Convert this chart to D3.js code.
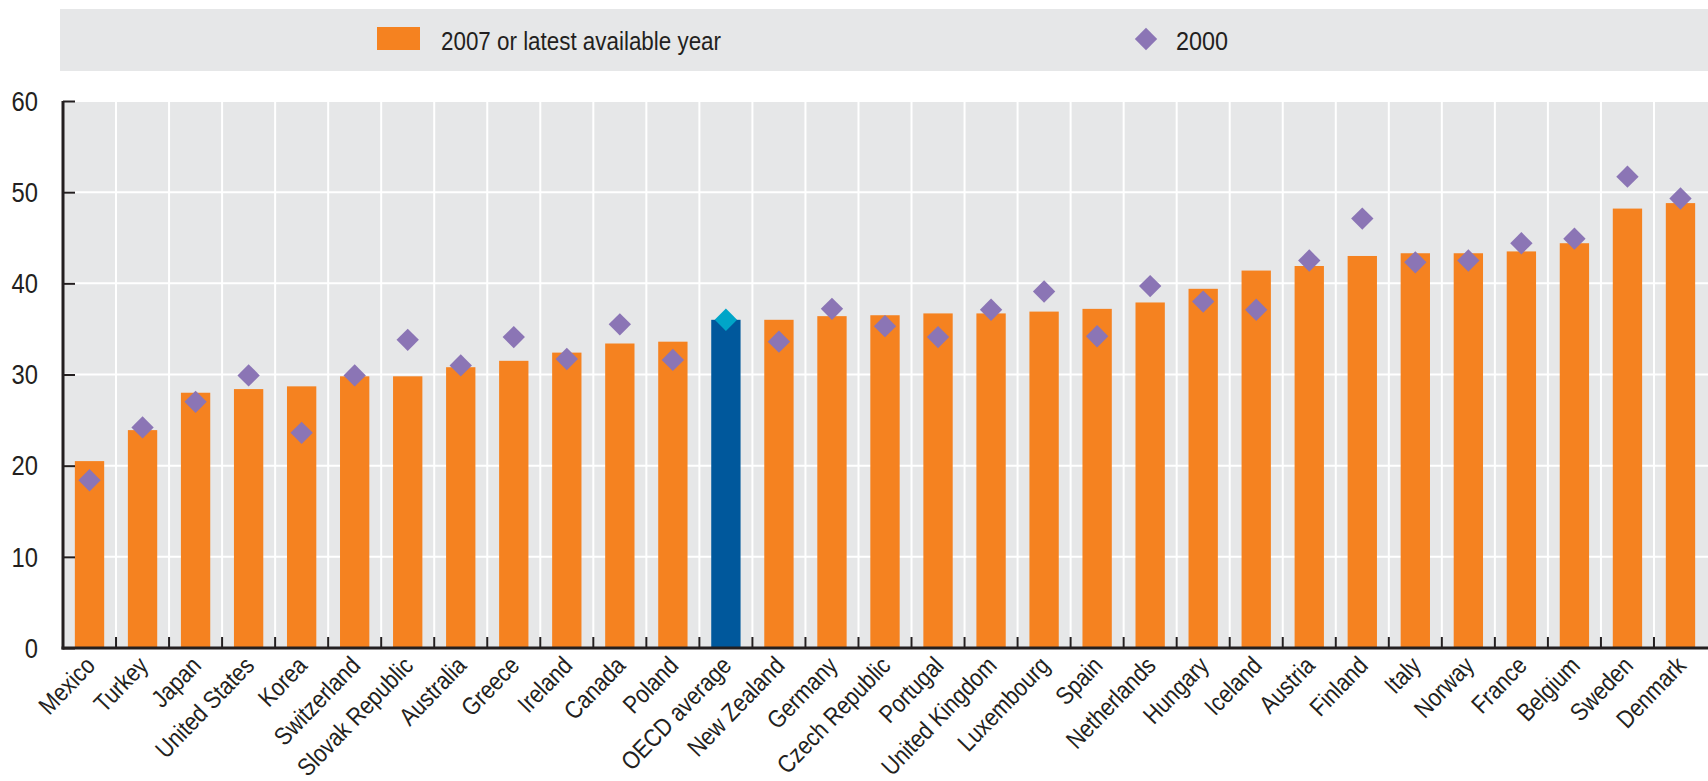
<!DOCTYPE html>
<html>
<head>
<meta charset="utf-8">
<script src="https://cdn.jsdelivr.net/npm/d3@7/dist/d3.min.js"></script>
<style>
  html, body { margin: 0; padding: 0; background: #fff; }
  svg { display: block; }
  text { font-family: "Liberation Sans", Arial, sans-serif; fill: #231f20; }
</style>
</head>
<body>
<svg id="chart" width="1708" height="781"></svg>
<script>
const categories = ["Mexico","Turkey","Japan","United States","Korea","Switzerland","Slovak Republic","Australia","Greece","Ireland","Canada","Poland","OECD average","New Zealand","Germany","Czech Republic","Portugal","United Kingdom","Luxembourg","Spain","Netherlands","Hungary","Iceland","Austria","Finland","Italy","Norway","France","Belgium","Sweden","Denmark"];
const values2007 = [20.5,23.9,28.0,28.4,28.7,29.8,29.8,30.8,31.5,32.4,33.4,33.6,36.0,36.0,36.4,36.5,36.7,36.7,36.9,37.2,37.9,39.4,41.4,41.9,43.0,43.3,43.3,43.5,44.4,48.2,48.8];
const values2000 = [18.4,24.2,27.0,29.9,23.6,29.9,33.8,31.0,34.1,31.7,35.5,31.6,36.0,33.6,37.2,35.3,34.1,37.1,39.1,34.2,39.7,38.0,37.1,42.5,47.1,42.3,42.5,44.4,44.9,51.7,49.3];
const yTicks = [0,10,20,30,40,50,60];
const legendLabels = ["2007 or latest available year","2000"];
const highlight = "OECD average";

const svg = d3.select("#chart");
const pLeft = 63, pRight = 1707, pTop = 101, pBottom = 648;

const x = d3.scaleBand().domain(categories).range([pLeft, pRight]).paddingInner(0.447).paddingOuter(0.2235);
const xStep = d3.scaleBand().domain(categories).range([pLeft, pRight]).padding(0);
const y = d3.scaleLinear().domain([0, 60]).range([pBottom, pTop]);

// legend panel
svg.append("rect").attr("x", 60).attr("y", 9).attr("width", 1648).attr("height", 62).attr("fill", "#e6e7e8");
svg.append("rect").attr("x", 377).attr("y", 27).attr("width", 43).attr("height", 23).attr("fill", "#f58220");
svg.append("text").attr("x", 441).attr("y", 50).attr("font-size", 25)
  .attr("textLength", 280).attr("lengthAdjust", "spacingAndGlyphs").text(legendLabels[0]);
svg.append("path").attr("d", d3.symbol(d3.symbolSquare, 250)()).attr("transform", "translate(1146,39) rotate(45)").attr("fill", "#8b75b5");
svg.append("text").attr("x", 1176).attr("y", 50).attr("font-size", 25)
  .attr("textLength", 52).attr("lengthAdjust", "spacingAndGlyphs").text(legendLabels[1]);

// plot background
svg.append("rect").attr("x", pLeft).attr("y", pTop).attr("width", 1708 - pLeft).attr("height", pBottom - pTop).attr("fill", "#e6e7e8");

// horizontal gridlines
svg.append("g").selectAll("line").data(yTicks.filter(d => d > 0)).join("line")
  .attr("x1", pLeft).attr("x2", 1708).attr("y1", d => y(d)).attr("y2", d => y(d))
  .attr("stroke", "#fff").attr("stroke-width", 2);

// vertical gridlines at band boundaries
const bounds = categories.slice(1).map(c => xStep(c));
svg.append("g").selectAll("line").data(bounds).join("line")
  .attr("x1", d => d).attr("x2", d => d).attr("y1", pTop).attr("y2", pBottom)
  .attr("stroke", "#fff").attr("stroke-width", 2);

// bars
svg.append("g").selectAll("rect").data(categories).join("rect")
  .attr("x", d => x(d)).attr("width", x.bandwidth())
  .attr("y", (d, i) => y(values2007[i])).attr("height", (d, i) => pBottom - y(values2007[i]))
  .attr("fill", d => d === highlight ? "#00589c" : "#f58220");

// diamonds
svg.append("g").selectAll("path").data(categories).join("path")
  .attr("d", d3.symbol(d3.symbolSquare, 250)())
  .attr("transform", (d, i) => `translate(${x(d) + x.bandwidth() / 2},${y(values2000[i])}) rotate(45)`)
  .attr("fill", d => d === highlight ? "#00a5c8" : "#8b75b5");

// x ticks at boundaries
svg.append("g").selectAll("line").data(bounds).join("line")
  .attr("x1", d => d).attr("x2", d => d).attr("y1", pBottom).attr("y2", pBottom - 11)
  .attr("stroke", "#231f20").attr("stroke-width", 2);

// y axis ticks
const yAxis = d3.axisRight(y).tickValues(yTicks).tickSize(12).tickFormat("");
const ga = svg.append("g").attr("transform", `translate(${pLeft},0)`).call(yAxis);
ga.select(".domain").remove();
ga.selectAll("line").attr("stroke", "#231f20").attr("stroke-width", 2);

svg.append("g").selectAll("text").data(yTicks).join("text")
  .attr("transform", d => `translate(38,${y(d)}) scale(0.88,1)`)
  .attr("dy", "0.36em").attr("text-anchor", "end")
  .attr("font-size", 27).text(d => d);

// axis lines
svg.append("line").attr("x1", pLeft).attr("x2", pLeft).attr("y1", pTop).attr("y2", pBottom + 1.5)
  .attr("stroke", "#231f20").attr("stroke-width", 3);
svg.append("line").attr("x1", pLeft - 1.5).attr("x2", 1708).attr("y1", pBottom).attr("y2", pBottom)
  .attr("stroke", "#231f20").attr("stroke-width", 3);

// x labels, rotated
svg.append("g").selectAll("text").data(categories).join("text")
  .attr("text-anchor", "end")
  .attr("transform", d => `translate(${x(d) + x.bandwidth() / 2 + 7},667) rotate(-46) scale(0.86,1)`)
  .attr("font-size", 25).text(d => d);
</script>
</body>
</html>
